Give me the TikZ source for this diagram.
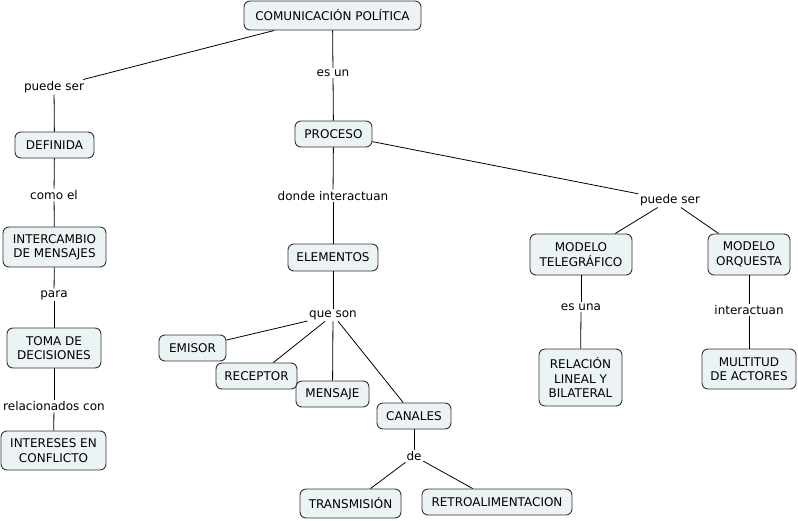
\documentclass[tikz,border=0pt]{standalone}
\usepackage{fontspec}
\setmainfont{DejaVu Sans}
\definecolor{boxfill}{RGB}{236,243,245}
\definecolor{boxline}{RGB}{50,50,50}
\begin{document}
\begin{tikzpicture}[x=1pt,y=-1pt,
  every node/.style={font=\fontsize{12}{14.5}\selectfont},
  concept/.style={draw=boxline,fill=boxfill,rounded corners=6pt,align=center,inner sep=0pt,line width=0.9pt},
  lbl/.style={fill=white,inner sep=1.5pt,align=center},
  conn/.style={draw=black,line width=0.8pt}]
\useasboundingbox (0,0) rectangle (798,520);
% concepts
\node[concept,minimum width=177,minimum height=29] (com) at (332.5,15.5) {COMUNICACIÓN POLÍTICA};
\node[concept,minimum width=77,minimum height=26] (pro) at (333.5,134) {PROCESO};
\node[concept,minimum width=79,minimum height=26] (def) at (54.5,145) {DEFINIDA};
\node[concept,minimum width=103,minimum height=40] (int) at (54.5,247) {INTERCAMBIO\\DE MENSAJES};
\node[concept,minimum width=94,minimum height=40] (tom) at (54,348) {TOMA DE\\DECISIONES};
\node[concept,minimum width=105,minimum height=39] (ine) at (53.5,450.5) {INTERESES EN\\CONFLICTO};
\node[concept,minimum width=90,minimum height=27] (ele) at (333,257.5) {ELEMENTOS};
\node[concept,minimum width=67,minimum height=26] (emi) at (192.5,348) {EMISOR};
\node[concept,minimum width=81,minimum height=26] (rec) at (256.5,376) {RECEPTOR};
\node[concept,minimum width=73,minimum height=26] (men) at (332.5,394) {MENSAJE};
\node[concept,minimum width=74,minimum height=26] (can) at (414,416) {CANALES};
\node[concept,minimum width=101,minimum height=29] (tra) at (350.5,503.5) {TRANSMISIÓN};
\node[concept,minimum width=150,minimum height=26] (ret) at (497,502) {RETROALIMENTACION};
\node[concept,minimum width=102,minimum height=41] (tel) at (581,254.5) {MODELO\\TELEGRÁFICO};
\node[concept,minimum width=82,minimum height=41] (orq) at (749,254.5) {MODELO\\ORQUESTA};
\node[concept,minimum width=83,minimum height=57] (rel) at (580.5,377.5) {RELACIÓN\\LINEAL Y\\BILATERAL};
\node[concept,minimum width=94,minimum height=40] (mul) at (749,369) {MULTITUD\\DE ACTORES};
% labels
\node[lbl] (l1) at (54,87) {puede ser};
\node[lbl] (l2) at (333,73) {es un};
\node[lbl] (l3) at (54,195) {como el};
\node[lbl] (l4) at (54,295) {para};
\node[lbl] (l5) at (54,406) {relacionados con};
\node[lbl] (l6) at (333,196) {donde interactuan};
\node[lbl] (l7) at (333,315) {que son};
\node[lbl] (l8) at (414,456) {de};
\node[lbl] (l9) at (670,200) {puede ser};
\node[lbl] (l10) at (581,307) {es una};
\node[lbl] (l11) at (749,310) {interactuan};
% connectors
\draw[conn] (com) -- (l1);
\draw[conn] (l1) -- (def);
\draw[conn] (com) -- (l2);
\draw[conn] (l2) -- (pro);
\draw[conn] (def) -- (l3);
\draw[conn] (l3) -- (int);
\draw[conn] (int) -- (l4);
\draw[conn] (l4) -- (tom);
\draw[conn] (tom) -- (l5);
\draw[conn] (l5) -- (ine);
\draw[conn] (pro) -- (l6);
\draw[conn] (l6) -- (ele);
\draw[conn] (pro) -- (l9);
\draw[conn] (l9) -- (tel);
\draw[conn] (l9) -- (orq);
\draw[conn] (ele) -- (l7);
\draw[conn] (l7) -- (emi);
\draw[conn] (l7) -- (rec);
\draw[conn] (l7) -- (men);
\draw[conn] (l7) -- (can);
\draw[conn] (can) -- (l8);
\draw[conn] (l8) -- (tra);
\draw[conn] (l8) -- (ret);
\draw[conn] (tel) -- (l10);
\draw[conn] (l10) -- (rel);
\draw[conn] (orq) -- (l11);
\draw[conn] (l11) -- (mul);
\end{tikzpicture}
\end{document}
